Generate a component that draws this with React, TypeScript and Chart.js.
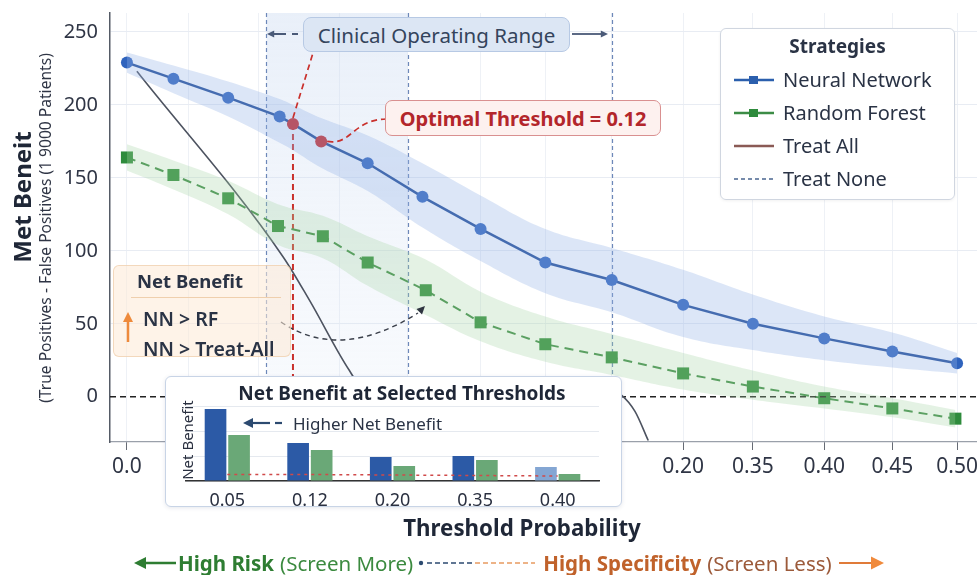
import React, { useEffect, useRef } from 'react';
import { Chart, registerables } from 'chart.js';

Chart.register(...registerables);

const FONT = '"Noto Sans", "Open Sans", Roboto, sans-serif';
Chart.defaults.font.family = FONT;

// ---------------- main chart data ----------------
const nnThresholds = [0, 0.028, 0.061, 0.092, 0.1, 0.117, 0.145, 0.178, 0.213, 0.252, 0.292, 0.335, 0.377, 0.42, 0.461, 0.5];
const nnNetBenefit = [229, 218, 205, 192, 187, 175, 160, 137, 115, 92, 80, 63, 50, 40, 31, 23];
const nnUpper = [236, 227, 216, 204, 200, 191, 179, 160, 138, 115, 102, 87, 70, 55, 44, 30];
const nnLower = [222, 208, 192, 174, 169, 157, 141, 116, 93, 71, 58, 41, 32, 25, 20, 16];
const nnOptimalIndex = [4, 5];

const rfThresholds = [0, 0.028, 0.061, 0.091, 0.118, 0.145, 0.18, 0.213, 0.252, 0.292, 0.335, 0.377, 0.42, 0.461, 0.499];
const rfNetBenefit = [164, 152, 136, 117, 110, 92, 73, 51, 36, 27, 16, 7, -1, -8, -15];
const rfUpper = [173, 162, 148, 132, 124, 110, 94, 72, 55, 43, 30, 18, 7, -1, -9];
const rfLower = [155, 142, 125, 104, 95, 76, 56, 38, 24, 15, 5, -2, -8, -14, -21];

const treatAllThresholds = [0.006, 0.094, 0.11, 0.134, 0.141, 0.279, 0.298, 0.306, 0.314];
const treatAllNetBenefit = [223, 96, 66, 18, 8, 11, 1, -10, -30];

const xMin = -0.0102;
const xMax = 0.512;
const xGridThresholds = [0, 0.037, 0.079, 0.128, 0.169, 0.213, 0.252, 0.292, 0.335, 0.377, 0.42, 0.461, 0.5];
const xLabelThresholds = [0, 0.335, 0.377, 0.42, 0.461, 0.5];
const xTickLabels = ['0.0', '0.20', '0.35', '0.40', '0.45', '0.50'];
const yMin = -31;
const yMax = 263;
const yTicks = [0, 50, 100, 150, 200, 250];
const clinicalRange = [0.084, 0.169];
const clinicalRangeEnd = 0.292;

// ---------------- inset data ----------------
const insetCategories = ['0.05', '0.12', '0.20', '0.35', '0.40'];
const insetNN = [72, 38, 24, 25, 14];
const insetRF = [46, 31, 15, 21, 7];
const insetTreatAll = [6.5, 6.5, 6, 5.5, 5];
const insetYTicks = [0, 25, 50, 75];

const labelIndex = (v: number) => xLabelThresholds.findIndex((t) => Math.abs(t - v) < 1e-6);

function arrowHead(ctx: CanvasRenderingContext2D, x: number, y: number, angle: number, size: number) {
  ctx.beginPath();
  ctx.moveTo(x, y);
  ctx.lineTo(x - size * Math.cos(angle - 0.45), y - size * Math.sin(angle - 0.45));
  ctx.lineTo(x - size * Math.cos(angle + 0.45), y - size * Math.sin(angle + 0.45));
  ctx.closePath();
  ctx.fill();
}

const zeroPad = (s: any) => {
  s.paddingTop = 0;
  s.paddingBottom = 0;
  s.paddingLeft = 0;
  s.paddingRight = 0;
};

const annotPlugin = {
  id: 'annot',
  beforeDatasetsDraw(chart: any) {
    const { ctx, chartArea: a, scales } = chart;
    const x = scales.x;
    const y = scales.y;
    ctx.save();
    const x0 = x.getPixelForValue(clinicalRange[0]);
    const x1 = x.getPixelForValue(clinicalRange[1]);
    const g = ctx.createLinearGradient(0, a.top, 0, a.bottom);
    g.addColorStop(0, 'rgba(200,216,240,0.4)');
    g.addColorStop(1, 'rgba(218,229,246,0.15)');
    ctx.fillStyle = g;
    ctx.fillRect(x0, a.top, x1 - x0, a.bottom - a.top);

    ctx.setLineDash([4, 3]);
    ctx.strokeStyle = '#6d88b9';
    ctx.lineWidth = 1.2;
    for (const t of [clinicalRange[0], clinicalRange[1], clinicalRangeEnd]) {
      const px = Math.round(x.getPixelForValue(t)) + 0.5;
      ctx.beginPath();
      ctx.moveTo(px, a.top);
      ctx.lineTo(px, a.bottom);
      ctx.stroke();
    }
    const i0 = nnOptimalIndex[0];
    const rx = x.getPixelForValue(nnThresholds[i0]);
    const ry = y.getPixelForValue(nnNetBenefit[i0]);
    ctx.setLineDash([6, 4]);
    ctx.strokeStyle = '#c9302c';
    ctx.lineWidth = 2;
    ctx.beginPath();
    ctx.moveTo(rx, ry);
    ctx.lineTo(rx, a.bottom);
    ctx.stroke();
    ctx.restore();
  },
  afterDatasetsDraw(chart: any) {
    const { ctx, scales } = chart;
    const x = scales.x;
    const y = scales.y;
    ctx.save();
    const p1 = { x: x.getPixelForValue(nnThresholds[nnOptimalIndex[0]]), y: y.getPixelForValue(nnNetBenefit[nnOptimalIndex[0]]) };
    const p2 = { x: x.getPixelForValue(nnThresholds[nnOptimalIndex[1]]), y: y.getPixelForValue(nnNetBenefit[nnOptimalIndex[1]]) };
    ctx.strokeStyle = '#c9302c';
    ctx.lineWidth = 1.7;
    ctx.setLineDash([6, 4]);
    ctx.beginPath();
    ctx.moveTo(p1.x, p1.y - 6);
    ctx.lineTo(313, 53);
    ctx.stroke();
    ctx.beginPath();
    ctx.moveTo(p2.x + 6, p2.y);
    ctx.bezierCurveTo(352, p2.y + 4, 352, 120, 386, 119);
    ctx.stroke();

    ctx.strokeStyle = '#3a3f4a';
    ctx.fillStyle = '#2f3440';
    ctx.lineWidth = 1.4;
    ctx.setLineDash([5, 4]);
    ctx.beginPath();
    ctx.moveTo(281, 322);
    ctx.quadraticCurveTo(340, 362, 418, 313);
    ctx.stroke();
    ctx.setLineDash([]);
    arrowHead(ctx, 425, 306, -Math.PI / 4, 9);

    ctx.strokeStyle = '#4a5a78';
    ctx.fillStyle = '#4a5a78';
    ctx.lineWidth = 1.8;
    ctx.beginPath();
    ctx.moveTo(272, 34);
    ctx.lineTo(286, 34);
    ctx.moveTo(292, 34);
    ctx.lineTo(298, 34);
    ctx.stroke();
    arrowHead(ctx, 267, 34, Math.PI, 8);
    ctx.beginPath();
    ctx.moveTo(572, 34);
    ctx.lineTo(602, 34);
    ctx.stroke();
    arrowHead(ctx, 608, 34, 0, 8);
    ctx.restore();
  },
};

const abs = (o: React.CSSProperties): React.CSSProperties => ({ position: 'absolute', whiteSpace: 'nowrap', ...o });

const legendItems = [
  { label: 'Neural Network', color: '#2b5fad', marker: '#2b5fad', dash: '' },
  { label: 'Random Forest', color: '#3c8c46', marker: '#2e8b3c', dash: '' },
  { label: 'Treat All', color: '#8a5a55', marker: '', dash: '' },
  { label: 'Treat None', color: '#4a6690', marker: '', dash: '4 3' },
];

export default function App() {
  const mainRef = useRef<HTMLCanvasElement>(null);
  const insetRef = useRef<HTMLCanvasElement>(null);

  useEffect(() => {
    const main = new Chart(mainRef.current as HTMLCanvasElement, {
      type: 'line',
      data: {
        datasets: [
          {
            label: 'nnUpper',
            data: nnThresholds.map((t, i) => ({ x: t, y: nnUpper[i] })),
            borderWidth: 0,
            pointRadius: 0,
            tension: 0.4,
            fill: false,
          },
          {
            label: 'nnLower',
            data: nnThresholds.map((t, i) => ({ x: t, y: nnLower[i] })),
            borderWidth: 0,
            pointRadius: 0,
            tension: 0.4,
            fill: '-1',
            backgroundColor: 'rgba(150,180,230,0.33)',
          },
          {
            label: 'rfUpper',
            data: rfThresholds.map((t, i) => ({ x: t, y: rfUpper[i] })),
            borderWidth: 0,
            pointRadius: 0,
            tension: 0.4,
            fill: false,
          },
          {
            label: 'rfLower',
            data: rfThresholds.map((t, i) => ({ x: t, y: rfLower[i] })),
            borderWidth: 0,
            pointRadius: 0,
            tension: 0.4,
            fill: '-1',
            backgroundColor: 'rgba(165,212,165,0.3)',
          },
          {
            label: 'Treat All',
            data: treatAllThresholds.map((t, i) => ({ x: t, y: treatAllNetBenefit[i] })),
            borderColor: '#4d5360',
            borderWidth: 1.6,
            pointRadius: 0,
            cubicInterpolationMode: 'monotone',
            fill: false,
          },
          {
            label: 'Treat None',
            data: [
              { x: xMin, y: 0 },
              { x: xMax, y: 0 },
            ],
            borderColor: '#222222',
            borderWidth: 1.5,
            borderDash: [6, 4],
            pointRadius: 0,
            fill: false,
          },
          {
            label: 'Random Forest',
            data: rfThresholds.map((t, i) => ({ x: t, y: rfNetBenefit[i] })),
            borderColor: '#3b8a45',
            borderWidth: 2,
            borderDash: [9, 6],
            pointStyle: 'rect',
            pointRadius: 8.5,
            pointBackgroundColor: '#2e8b3c',
            pointBorderColor: '#2e8b3c',
            pointBorderWidth: 0,
            fill: false,
          },
          {
            label: 'Neural Network',
            data: nnThresholds.map((t, i) => ({ x: t, y: nnNetBenefit[i] })),
            borderColor: '#1e4a96',
            borderWidth: 2.5,
            pointRadius: 6,
            pointBackgroundColor: nnThresholds.map((_, i) => (nnOptimalIndex.includes(i) ? '#c62828' : '#2f63bd')),
            pointBorderColor: nnThresholds.map((_, i) => (nnOptimalIndex.includes(i) ? '#c62828' : '#2f63bd')),
            pointBorderWidth: 0,
            fill: false,
          },
        ],
      },
      options: {
        responsive: false,
        animation: false,
        devicePixelRatio: 1,
        layout: { autoPadding: false, padding: { top: 13, left: 0, right: 0, bottom: 0 } },
        plugins: { legend: { display: false }, tooltip: { enabled: false } },
        scales: {
          x: {
            type: 'linear',
            min: xMin,
            max: xMax,
            afterFit: (s: any) => {
              s.height = 133;
              zeroPad(s);
            },
            afterBuildTicks: (s: any) => {
              s.ticks = xGridThresholds.map((v) => ({ value: v }));
            },
            ticks: {
              autoSkip: false,
              maxRotation: 0,
              padding: 4,
              color: '#2f3545',
              font: { size: 21, family: FONT },
              callback: (v: any) => {
                const i = labelIndex(Number(v));
                return i >= 0 ? xTickLabels[i] : '';
              },
            },
            grid: {
              color: '#eef1f6',
              tickColor: (c: any) => (c.tick && labelIndex(c.tick.value) >= 0 ? '#666b75' : 'rgba(0,0,0,0)'),
              tickLength: 8,
            },
            border: { color: '#9aa0aa', width: 1.2 },
          },
          y: {
            type: 'linear',
            min: yMin,
            max: yMax,
            afterFit: (s: any) => {
              s.width = 110;
              zeroPad(s);
            },
            afterBuildTicks: (s: any) => {
              s.ticks = yTicks.map((v) => ({ value: v }));
            },
            ticks: {
              padding: 12,
              color: '#2f3545',
              font: { size: 20, family: FONT },
            },
            grid: {
              drawTicks: false,
              color: (c: any) => (c.tick && c.tick.value === 0 ? 'rgba(0,0,0,0)' : '#e8ecf3'),
            },
            border: { color: '#555b66', width: 1.5 },
          },
        },
      },
      plugins: [annotPlugin],
    } as any);

    const inset = new Chart(insetRef.current as HTMLCanvasElement, {
      type: 'bar',
      data: {
        labels: insetCategories,
        datasets: [
          {
            type: 'line',
            label: 'Treat All',
            data: insetTreatAll,
            borderColor: '#d04a4a',
            borderWidth: 1.5,
            borderDash: [3, 4],
            pointRadius: 0,
            order: 0,
          },
          {
            label: 'Neural Network',
            data: insetNN,
            backgroundColor: insetNN.map((_, i) => (i === insetNN.length - 1 ? '#84a6d3' : '#2c5aa6')),
            categoryPercentage: 0.57,
            barPercentage: 0.92,
            order: 1,
          },
          {
            label: 'Random Forest',
            data: insetRF,
            backgroundColor: '#6aa877',
            categoryPercentage: 0.57,
            barPercentage: 0.92,
            order: 1,
          },
        ],
      },
      options: {
        responsive: false,
        animation: false,
        devicePixelRatio: 1,
        layout: { autoPadding: false, padding: { top: 30, right: 23, left: 0, bottom: 0 } },
        plugins: { legend: { display: false }, tooltip: { enabled: false } },
        scales: {
          x: {
            afterFit: (s: any) => {
              s.height = 26;
              zeroPad(s);
            },
            ticks: { padding: 1, color: '#2a3040', font: { size: 18, family: FONT } },
            grid: { display: false },
            border: { color: '#333', width: 1.5 },
          },
          y: {
            min: 0,
            max: 75,
            afterFit: (s: any) => {
              s.width = 21;
              zeroPad(s);
            },
            afterBuildTicks: (s: any) => {
              s.ticks = insetYTicks.map((v) => ({ value: v }));
            },
            ticks: { display: false },
            grid: { color: '#e5e9ef', drawTicks: false },
            border: { display: false },
          },
        },
      },
    } as any);

    return () => {
      main.destroy();
      inset.destroy();
    };
  }, []);

  return (
    <div style={{ position: 'absolute', left: 0, top: 0, width: 977, height: 575, background: '#ffffff', overflow: 'hidden', fontFamily: FONT, color: '#2a3040' }}>
      <canvas ref={mainRef} width={977} height={575} style={{ position: 'absolute', left: 0, top: 0, width: 977, height: 575 }} />

      {/* axis titles */}
      <div style={abs({ left: 21, top: 197, transform: 'translate(-50%,-50%) rotate(-90deg)', fontWeight: 700, fontSize: 24, color: '#1f2737' })}>Met Beneit</div>
      <div style={abs({ left: 45, top: 228, transform: 'translate(-50%,-50%) rotate(-90deg)', fontSize: 15.6, color: '#2f3545' })}>
        (True Positives - False Positives (1 9000 Patients)
      </div>
      <div style={abs({ left: 522, top: 527, transform: 'translate(-50%,-50%)', fontWeight: 700, fontSize: 22.3, color: '#1f2737' })}>Threshold Probability</div>

      {/* clinical operating range */}
      <div style={abs({ left: 303, top: 17, width: 267, height: 35, boxSizing: 'border-box', background: '#dce6f4', border: '1px solid #b7c9e4', borderRadius: 8, display: 'flex', alignItems: 'center', justifyContent: 'center', fontSize: 20.5, color: '#34445c' })}>
        Clinical Operating Range
      </div>

      {/* optimal threshold */}
      <div style={abs({ left: 385, top: 100, width: 276, height: 36, boxSizing: 'border-box', background: '#fdf1ef', border: '1.5px solid #d99090', borderRadius: 7, display: 'flex', alignItems: 'center', justifyContent: 'center', fontSize: 20, fontWeight: 700, color: '#b3262b' })}>
        Optimal Threshold = 0.12
      </div>

      {/* legend */}
      <div style={abs({ left: 720, top: 28, width: 235, height: 172, boxSizing: 'border-box', background: 'rgba(255,255,255,0.96)', border: '1px solid #d0d6e0', borderRadius: 6, boxShadow: '0 1px 3px rgba(0,0,0,0.06)' })}>
        <div style={abs({ left: 0, width: 233, top: 4, textAlign: 'center', fontWeight: 700, fontSize: 19, color: '#2a3345' })}>Strategies</div>
        {legendItems.map((it, i) => (
          <div key={it.label} style={abs({ left: 0, top: 52 + i * 33 - 1 - 14, height: 28, width: 233 })}>
            <svg width={42} height={14} style={{ position: 'absolute', left: 12, top: 7 }}>
              <line x1={1} y1={7} x2={41} y2={7} stroke={it.color} strokeWidth={it.dash ? 1.6 : 2.5} strokeDasharray={it.dash || undefined} />
              {it.marker ? <rect x={16} y={3} width={9} height={8} fill={it.marker} /> : null}
            </svg>
            <div style={abs({ left: 62, top: 0, fontSize: 20, lineHeight: '28px', color: '#2a3345' })}>{it.label}</div>
          </div>
        ))}
      </div>

      {/* Net benefit annotation box */}
      <div style={abs({ left: 113, top: 265, width: 178, height: 92, boxSizing: 'border-box', background: 'rgba(253,234,214,0.55)', border: '1px solid rgba(240,205,170,0.7)', borderRadius: 6 })}>
        <div style={abs({ left: 23, top: 2, fontWeight: 700, fontSize: 18.5, color: '#2a3345' })}>Net Benefit</div>
        <div style={abs({ left: 17, top: 31, width: 150, height: 1, background: '#efcfad' })} />
        <div style={abs({ left: 29, top: 39, fontWeight: 600, fontSize: 19.5, color: '#2a3345' })}>NN &gt; RF</div>
        <div style={abs({ left: 29, top: 69, fontWeight: 600, fontSize: 19.5, color: '#2a3345' })}>NN &gt; Treat-All</div>
        <svg width={14} height={32} style={{ position: 'absolute', left: 7, top: 46 }}>
          <line x1={7} y1={8} x2={7} y2={30} stroke="#ee8a3c" strokeWidth={2.5} />
          <polygon points="7,0 2,10 12,10" fill="#ee8a3c" />
        </svg>
      </div>

      {/* inset */}
      <div style={abs({ left: 165, top: 376, width: 457, height: 131, boxSizing: 'border-box', background: '#ffffff', border: '1px solid #c8d4e6', borderRadius: 6, boxShadow: '0 1px 4px rgba(40,60,100,0.12)' })} />
      <canvas ref={insetRef} width={457} height={131} style={{ position: 'absolute', left: 165, top: 376, width: 457, height: 131 }} />
      <div style={abs({ left: 402, top: 393, transform: 'translate(-50%,-50%)', fontWeight: 700, fontSize: 19, color: '#1f2737' })}>Net Benefit at Selected Thresholds</div>
      <div style={abs({ left: 187, top: 440, transform: 'translate(-50%,-50%) rotate(-90deg)', fontSize: 15, color: '#2a3040' })}>Net Benefit</div>
      <svg width={42} height={12} style={{ position: 'absolute', left: 243, top: 417 }}>
        <polygon points="0,6 10,1 10,11" fill="#2c4a70" />
        <line x1={8} y1={6} x2={27} y2={6} stroke="#2c4a70" strokeWidth={2.2} />
        <line x1={32} y1={6} x2={39} y2={6} stroke="#2c4a70" strokeWidth={2.2} />
      </svg>
      <div style={abs({ left: 293, top: 423, transform: 'translateY(-50%)', fontSize: 17, color: '#2a3345' })}>Higher Net Benefit</div>

      {/* bottom direction line */}
      <div style={abs({ left: 134, top: 549, height: 28, display: 'flex', alignItems: 'center', fontSize: 20.5 })}>
        <svg width={42} height={16}>
          <line x1={8} y1={8} x2={42} y2={8} stroke="#2e7d32" strokeWidth={2.5} />
          <polygon points="0,8 12,2 12,14" fill="#2e7d32" />
        </svg>
        <span style={{ fontWeight: 700, color: '#2e7d32', marginLeft: 2 }}>High Risk</span>
        <span style={{ color: '#3b8a3f', marginLeft: 6 }}>(Screen More)</span>
        <svg width={122} height={10} style={{ margin: '0 4px' }}>
          <circle cx={4} cy={5} r={2.2} fill="#2c4a70" />
          <line x1={10} y1={5} x2={55} y2={5} stroke="#2c4a70" strokeWidth={1.6} strokeDasharray="5 3" />
          <line x1={58} y1={5} x2={118} y2={5} stroke="#e89a60" strokeWidth={1.6} strokeDasharray="5 3" />
        </svg>
        <span style={{ fontWeight: 700, color: '#c0622b' }}>High Specificity</span>
        <span style={{ color: '#9c5a3a', marginLeft: 6 }}>(Screen Less)</span>
        <svg width={46} height={16} style={{ marginLeft: 7 }}>
          <line x1={0} y1={8} x2={34} y2={8} stroke="#e07b39" strokeWidth={2} />
          <polygon points="45,8 32,1.5 32,14.5" fill="#f08a3c" />
        </svg>
      </div>
    </div>
  );
}
